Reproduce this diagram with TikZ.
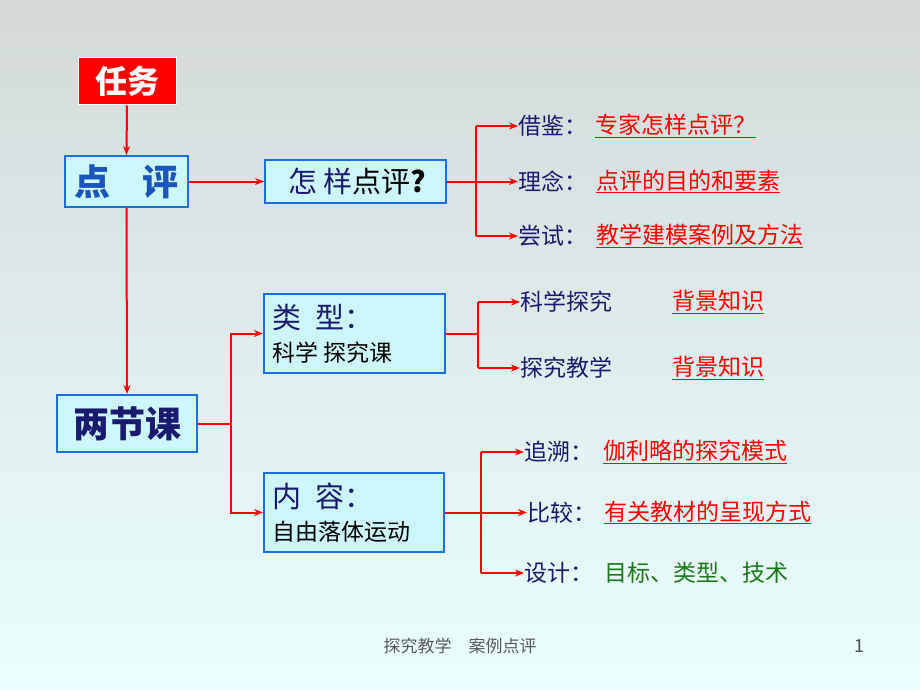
\documentclass[tikz,border=0pt]{standalone}
\usepackage{fontspec}
\setmainfont{Noto Sans CJK SC}
\usetikzlibrary{arrows.meta}
\definecolor{navy}{HTML}{1A1A6E}
\definecolor{boxfill}{HTML}{CCF6FA}
\definecolor{boxline}{HTML}{1A6FE0}
\definecolor{tgreen}{HTML}{1A7A1A}
\begin{document}
\begin{tikzpicture}[x=1pt,y=-1pt,
  box/.style={draw=boxline,line width=2pt,fill=boxfill,inner sep=0pt},
  arr/.style={draw=red,line width=2pt,-{Stealth[length=9pt,width=7pt]}},
  ln/.style={draw=red,line width=2pt},
  lab/.style={text=navy,font=\fontsize{23}{27}\selectfont,anchor=west,inner sep=0pt},
  rtx/.style={text=red,font=\fontsize{23}{27}\selectfont,anchor=west,inner sep=0pt},
  grn/.style={text=tgreen,font=\fontsize{23}{27}\selectfont,anchor=west,inner sep=0pt}]
\shade[top color=white!80!cyan!25!gray!40,bottom color=white!92!cyan] (0,0) rectangle (920,690);
\useasboundingbox (0,0) rectangle (920,690);
% boxes
\node[fill=red,draw=white,line width=1pt,minimum width=98pt,minimum height=47pt,text=white,font=\fontsize{32}{36}\selectfont\bfseries] (renwu) at (127,81.5) {任务};
\node[box,minimum width=123pt,minimum height=51pt,text=boxline!70!navy,font=\fontsize{36}{40}\selectfont\bfseries] (dp) at (126.5,181.5) {点\hspace{0.9em}评};
\node[box,minimum width=181pt,minimum height=43pt,anchor=west,font=\fontsize{29}{33}\selectfont] (zy) at (264,181.5) {\hspace{4pt}\textcolor{navy}{怎 样}点评\textbf{?}\hfill};
\node[box,minimum width=181pt,minimum height=79pt] (lx) at (354.5,333.5) {};
\node[lab,font=\fontsize{29}{33}\selectfont] (lxt) at (272,317) {类\hspace{0.5em}型：};
\node[lab,text=black,font=\fontsize{23}{27}\selectfont] (lxs) at (272,353) {科学 探究课};
\node[box,minimum width=140pt,minimum height=57pt,text=navy,font=\fontsize{36}{40}\selectfont\bfseries] (ljk) at (127,423.5) {两节课};
\node[box,minimum width=180pt,minimum height=79pt] (nr) at (354,512.5) {};
\node[lab,font=\fontsize{29}{33}\selectfont] (nrt) at (272,496) {内\hspace{0.5em}容：};
\node[lab,text=black,font=\fontsize{23}{27}\selectfont] (nrs) at (272,532) {自由落体运动};
% arrows
\draw[arr] (renwu.south) -- (dp.north);
\draw[arr] (dp.east) -- (zy.west);
\draw[arr] (dp.south) -- (ljk.north);
\coordinate (j1) at (231,423.5);
\draw[ln] (ljk.east) -- (j1);
\draw[arr] (j1) |- (lx.west);
\draw[arr] (j1) |- (nr.west);
% right labels
\node[lab] (a1) at (518,126) {借鉴：};
\node[rtx] (a1r) at (595,126) {\underline{专家怎样点评？}};
\node[lab] (a2) at (518,181.5) {理念：};
\node[rtx] (a2r) at (596,181.5) {\underline{点评的目的和要素}};
\node[lab] (a3) at (518,236) {尝试：};
\node[rtx] (a3r) at (596,236) {\underline{教学建模案例及方法}};
\node[lab] (b1) at (520,302) {科学探究};
\node[rtx] (b1r) at (672,302) {\underline{背景知识}};
\node[lab] (b2) at (520,368) {探究教学};
\node[rtx] (b2r) at (672,368) {\underline{背景知识}};
\node[lab] (c1) at (524,452) {追溯：};
\node[rtx] (c1r) at (603,452) {\underline{伽利略的探究模式}};
\node[lab] (c2) at (527,512.5) {比较：};
\node[rtx] (c2r) at (604,512.5) {\underline{有关教材的呈现方式}};
\node[lab] (c3) at (524,573) {设计：};
\node[grn] (c3r) at (604,573) {目标、类型、技术};
% branches
\coordinate (k1) at (476,181.5);
\draw[ln] (zy.east) -- (k1);
\draw[ln] (476,126) -- (476,236);
\draw[arr] (476,126) -- (a1.west);
\draw[arr] (k1) -- (a2.west);
\draw[arr] (476,236) -- (a3.west);
\coordinate (k2) at (478,333.5);
\draw[ln] (lx.east) -- (k2);
\draw[ln] (478,302) -- (478,368);
\draw[arr] (478,302) -- (b1.west);
\draw[arr] (478,368) -- (b2.west);
\coordinate (k3) at (481,512.5);
\draw[ln] (nr.east) -- (k3);
\draw[ln] (481,452) -- (481,573);
\draw[arr] (481,452) -- (c1.west);
\draw[arr] (k3) -- (c2.west);
\draw[arr] (481,573) -- (c3.west);
% footer
\node[text=black!65,font=\fontsize{17}{20}\selectfont] (ft) at (460,646) {探究教学\hspace{1em}案例点评};
\node[text=black!70,font=\fontsize{18}{20}\selectfont] (pg) at (859,646) {1};
\end{tikzpicture}
\end{document}
